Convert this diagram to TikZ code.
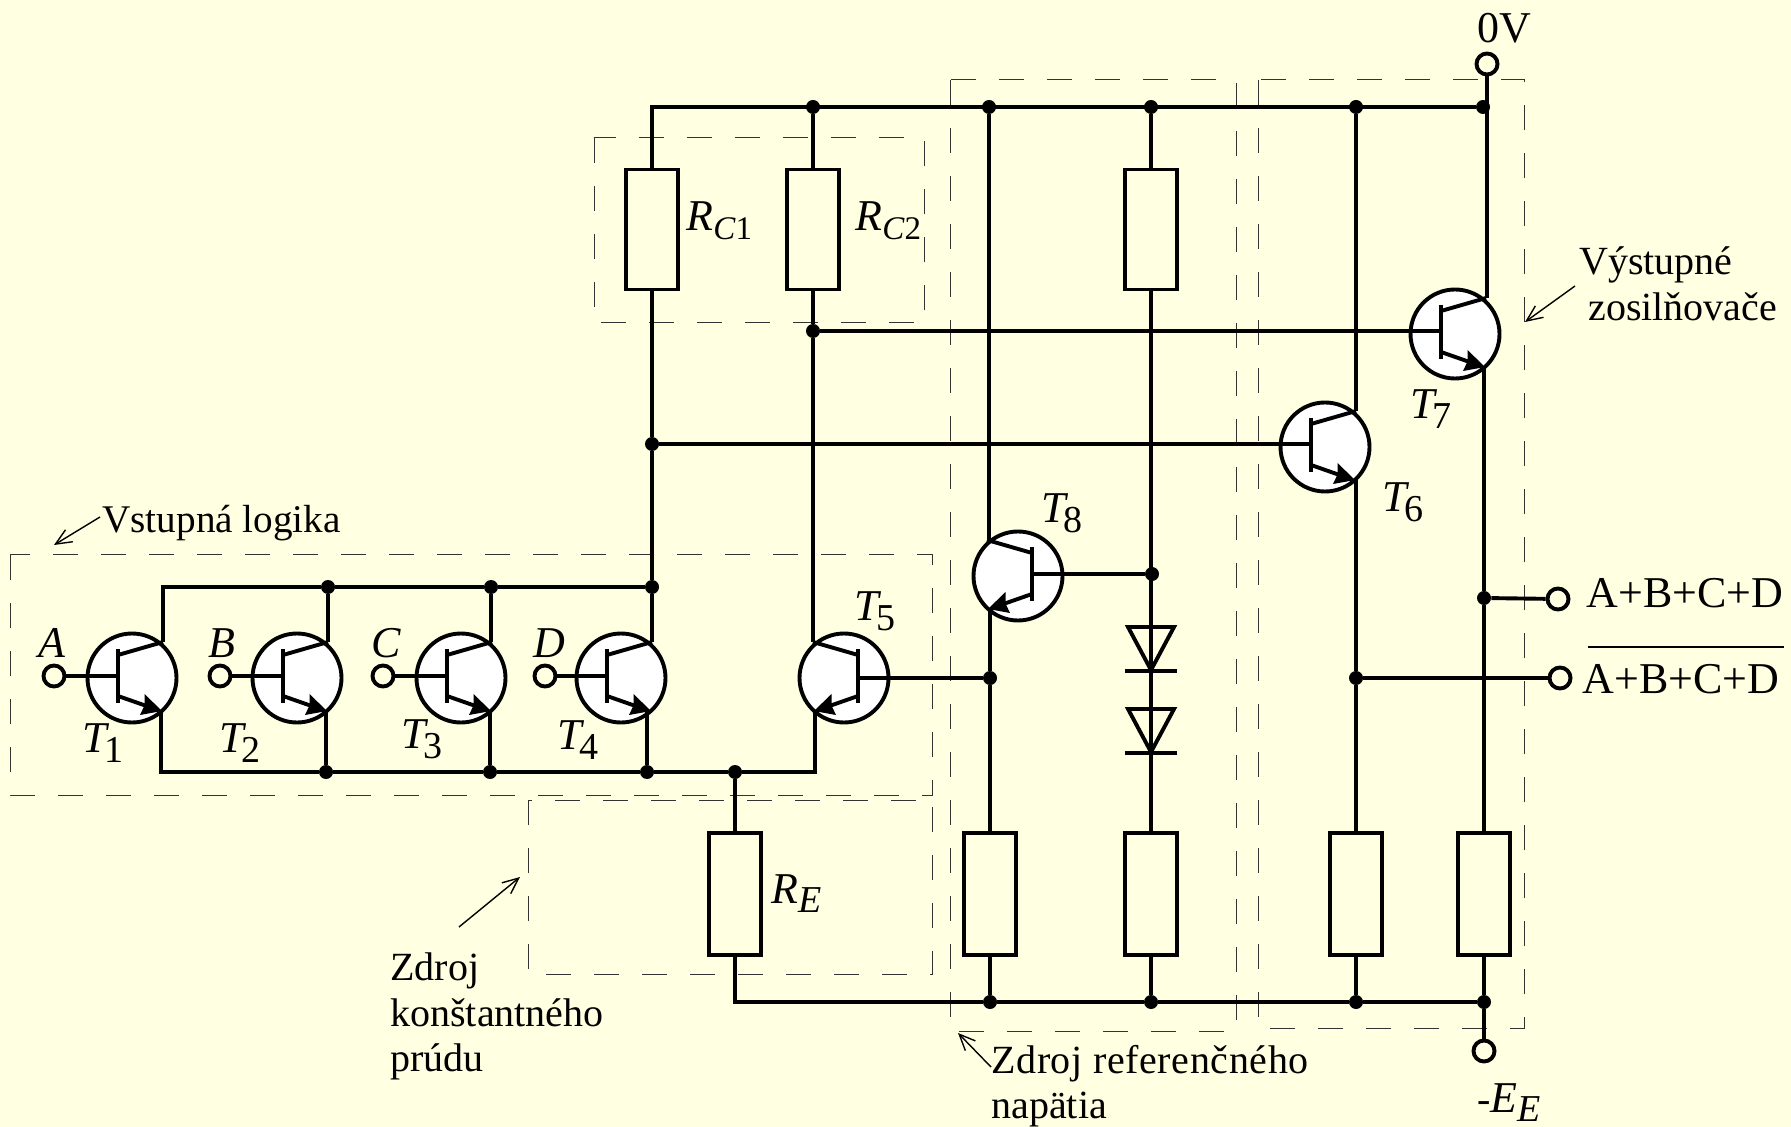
\documentclass[tikz,border=0pt]{standalone}
\usepackage{fontspec}
\setmainfont{Liberation Serif}
\usetikzlibrary{arrows.meta}
\definecolor{paper}{RGB}{255,255,225}
\newcommand{\tlab}[2]{\textit{\fontsize{22}{26}\selectfont #1}\kern-2.5pt\raisebox{-5pt}{\fontsize{19}{24}\selectfont #2}}
\newcommand{\rlab}[2]{\textit{\fontsize{22}{26}\selectfont #1}\raisebox{-4.5pt}{\fontsize{16.5}{20}\selectfont #2}}
\tikzset{
  wire/.style={line width=1.95pt},
  box/.style={line width=.5pt,black!80,dash pattern=on 12.5pt off 11.5pt},
  pointer/.style={line width=.7pt,-{Straight Barb[length=8pt,width=7pt]}},
  res/.style={draw,wire,rectangle,fill=paper,minimum width=26pt,minimum height=60pt,inner sep=0pt},
  dot/.style={circle,fill=black,inner sep=0pt,minimum size=7pt},
  term/.style={circle,draw,wire,fill=paper,inner sep=0pt,minimum size=10.5pt},
  lab/.style={anchor=base west,inner sep=0pt,font=\fontsize{20}{23}\selectfont,align=left},
  biglab/.style={anchor=base west,inner sep=0pt,font=\fontsize{22}{26}\selectfont},
  npn/.pic={
    \draw[wire,fill=white] (0,0) circle (44.5);
    \draw[wire] (-14,-29) -- (-14,25);
    \draw[wire] (-14,-23) -- (31,-36);
    \draw[wire] (-14,18) -- (16,28.5);
    \fill (30,33) -- (8,37) -- (12.5,27.5) -- (12.5,16) -- cycle;
    \coordinate (-c) at (31,-36);
    \coordinate (-e) at (29,32);
    \coordinate (-b) at (-14,-2);
  },
  diode/.pic={
    \draw[wire] (-23,0) -- (23,0) -- (0,43) -- cycle;
    \draw[wire] (-26,44) -- (26,44);
    \coordinate (-a) at (0,0);
    \coordinate (-k) at (0,44);
  }
}
\begin{document}
\begin{tikzpicture}[x=0.5pt,y=-0.5pt]
  \useasboundingbox (0,0) rectangle (1791,1127);
  \fill[paper] (0,0) rectangle (1791,1127);

  \draw[box] (10,555) rectangle (932,795);
  \draw[box] (594,138) rectangle (924,323);
  \draw[box] (528,800) rectangle (932,974);
  \draw[box] (950,80) rectangle (1236,1031);
  \draw[box] (1258,80) rectangle (1524,1028);

  \pic (t1) at (132,678) {npn};
  \pic (t2) at (297,678) {npn};
  \pic (t3) at (461,678) {npn};
  \pic (t4) at (621,678) {npn};
  \pic[xscale=-1] (t5) at (844,678) {npn};
  \pic (t6) at (1325,447) {npn};
  \pic (t7) at (1455,334) {npn};
  \pic[xscale=-1] (t8) at (1018,576) {npn};
  \pic (da) at (1151,627) {diode};
  \pic (db) at (1151,709) {diode};

  \node[res] (rca) at (652,229.5) {};
  \node[res] (rcb) at (813,229.5) {};
  \node[res] (rt) at (1151,229.5) {};
  \node[res,minimum height=61pt] (re) at (735,894) {};
  \node[res,minimum height=61pt] (rf) at (990,894) {};
  \node[res,minimum height=61pt] (rg) at (1151,894) {};
  \node[res,minimum height=61pt] (rv) at (1356,894) {};
  \node[res,minimum height=61pt] (ry) at (1484,894) {};

  \foreach \n/\x/\y in {p1/813/107,p2/989/107,p3/1151/107,p4/1356/107,p5/1483/107,
      q1/813/331,q2/652/444,q3/1152/574,q4/990/678,q5/1356/678,q6/1484/598,
      u1/328/587,u2/491/587,u3/652/587,
      v1/326/772,v2/490/772,v3/647/772,v4/735/772,
      w1/990/1002,w2/1151/1002,w3/1356/1002,w4/1484/1002}
    \node[dot] (\n) at (\x,\y) {};

  \foreach \n/\x/\y in {ta/54/676,tb/220/676,tc/383/676,td/545/676,
      tz/1487/64,tf/1558/599,tg/1560/678,th/1484/1051}
    \node[term] (\n) at (\x,\y) {};

  \draw[wire] (rca.north) |- (p5);
  \draw[wire] (p1) -- (rcb.north);
  \draw[wire] (p3) -- (rt.north);
  \draw[wire] (rca.south) -- (q2) -- (u3) -- (t4-c);
  \draw[wire] (rcb.south) -- (q1) -- (t5-c);
  \draw[wire] (q1) -- (q1 -| t7-b);
  \draw[wire] (q2) -- (q2 -| t6-b);
  \draw[wire] (t1-c) |- (u1);
  \draw[wire] (u1) -- (u2) -- (u3);
  \draw[wire] (u1) -- (u1 |- t2-c);
  \draw[wire] (u2) -- (u2 |- t3-c);
  \draw[wire] (t1-e) |- (v1);
  \draw[wire] (v1) -- (v2) -- (v3) -- (v4);
  \draw[wire] (t5-e) |- (v4);
  \draw[wire] (v1) -- (v1 |- t2-e);
  \draw[wire] (v2) -- (v2 |- t3-e);
  \draw[wire] (v3) -- (v3 |- t4-e);
  \draw[wire] (v4) -- (re.north);
  \draw[wire] (re.south) |- (w1);
  \draw[wire] (w1) -- (w2) -- (w3) -- (w4);
  \draw[wire] (rf.south) -- (w1);
  \draw[wire] (rg.south) -- (w2);
  \draw[wire] (rv.south) -- (w3);
  \draw[wire] (ry.south) -- (w4) -- (th);
  \draw[wire] (ta) -- (ta -| t1-b);
  \draw[wire] (tb) -- (tb -| t2-b);
  \draw[wire] (tc) -- (tc -| t3-b);
  \draw[wire] (td) -- (td -| t4-b);
  \draw[wire] (q4) -- (q4 -| t5-b);
  \draw[wire] (q3) -- (q3 -| t8-b);
  \draw[wire] (p2) -- (p2 |- t8-c);
  \draw[wire] (q4) -- (q4 |- t8-e);
  \draw[wire] (q4) -- (rf.north);
  \draw[wire] (rt.south) -- (rt.south |- q3) -- (da-a) -- (da-k) -- (db-a) -- (db-k) -- (rg.north);
  \draw[wire] (p4) -- (p4 |- t6-c);
  \draw[wire] (q5) -- (q5 |- t6-e);
  \draw[wire] (q5) -- (rv.north);
  \draw[wire] (tz) -- (tz |- t7-c);
  \draw[wire] (q6) -- (q6 |- t7-e);
  \draw[wire] (q6) -- (ry.north);
  \draw[wire] (q6) -- (tf);
  \draw[wire] (q5) -- (tg);

  \node[biglab] (la) at (38,657) {\textit{A}};
  \node[biglab] (lb) at (208,657) {\textit{B}};
  \node[biglab] (lc) at (371,657) {\textit{C}};
  \node[biglab] (ld) at (533,657) {\textit{D}};
  \node[lab] (l1) at (82,752) {\tlab{T}{1}};
  \node[lab] (l2) at (219,752) {\tlab{T}{2}};
  \node[lab] (l3) at (401,748) {\tlab{T}{3}};
  \node[lab] (l4) at (557,749) {\tlab{T}{4}};
  \node[lab] (l5) at (854,620) {\tlab{T}{5}};
  \node[lab] (l6) at (1382,512) {\tlab{T}{6}};
  \node[lab] (l7) at (1410,419) {\tlab{T}{7}};
  \node[lab] (l8) at (1041,523) {\tlab{T}{8}};
  \node[lab] (lrca) at (686,231) {\rlab{R}{\textit{C}1}};
  \node[lab] (lrcb) at (855,231) {\rlab{R}{\textit{C}2}};
  \node[lab] (lre) at (771,903) {\rlab{R}{\fontsize{19}{20}\selectfont\textit{E}}};
  \node[lab] (lee) at (1477,1112) {-\rlab{E}{\fontsize{19}{20}\selectfont\textit{E}}};
  \node[biglab] (lzv) at (1477,43) {0V};
  \node[biglab] (lf) at (1586,607) {A+B+C+D};
  \node[biglab] (lg) at (1582,693) {\rlap{\kern3pt\raisebox{22.5pt}{\rule{98pt}{1.1pt}}}A+B+C+D};
  \node[lab] (ls1) at (102,532) {\fontsize{19.6}{23}\selectfont Vstupná logika};
  \node[lab] (ls2) at (1579,275) {Výstupné};
  \node[lab] (ls3) at (1588,321) {zosilňovače};
  \node[lab] (ls4) at (390,980) {Zdroj};
  \node[lab] (ls5) at (390,1026) {konštantného};
  \node[lab] (ls6) at (390,1071) {prúdu};
  \node[lab] (ls7) at (991,1073) {\addfontfeature{LetterSpace=1.5}Zdroj referenčného};
  \node[lab] (ls8) at (991,1118) {napätia};

  \coordinate (a1) at (100,517);
  \coordinate (a2) at (54,545);
  \coordinate (b1) at (1575,286);
  \coordinate (b2) at (1525,322);
  \coordinate (c1) at (459,927);
  \coordinate (c2) at (520,877);
  \coordinate (e1) at (991,1067);
  \coordinate (e2) at (958,1033);
  \draw[pointer] (a1) -- (a2);
  \draw[pointer] (b1) -- (b2);
  \draw[pointer] (c1) -- (c2);
  \draw[pointer] (e1) -- (e2);
\end{tikzpicture}
\end{document}
